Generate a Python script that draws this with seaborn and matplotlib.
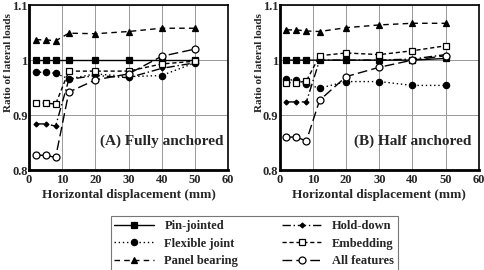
import matplotlib

matplotlib.use("Agg")

import matplotlib.pyplot as plt
import pandas as pd
import seaborn as sns

displacement = [2, 5, 8, 12, 20, 30, 40, 50]
series_names = ["Pin-jointed", "Flexible joint", "Panel bearing",
                "Hold-down", "Embedding", "All features"]

fully_pin = [1.0, 1.0, 1.0, 1.0, 1.0, 1.0, 1.0, 1.0]
fully_flexible = [0.978, 0.978, 0.976, 0.966, 0.975, 0.970, 0.972, 0.995]
fully_panel = [1.037, 1.037, 1.035, 1.049, 1.048, 1.052, 1.058, 1.058]
fully_hold = [0.884, 0.884, 0.880, 0.965, 0.972, 0.968, 0.985, 0.995]
fully_embed = [0.922, 0.922, 0.920, 0.980, 0.980, 0.980, 0.993, 0.998]
fully_all = [0.827, 0.827, 0.823, 0.942, 0.964, 0.975, 1.007, 1.020]

half_pin = [1.0, 1.0, 1.0, 1.0, 1.0, 1.0, 1.0, 1.003]
half_flexible = [0.965, 0.963, 0.956, 0.949, 0.961, 0.961, 0.954, 0.954]
half_panel = [1.055, 1.055, 1.053, 1.052, 1.059, 1.064, 1.067, 1.067]
half_hold = [0.924, 0.924, 0.924, 1.0, 1.0, 1.0, 1.002, 1.010]
half_embed = [0.959, 0.959, 0.962, 1.008, 1.013, 1.010, 1.017, 1.026]
half_all = [0.860, 0.860, 0.853, 0.927, 0.970, 0.987, 1.000, 1.008]

panels = [
    ("(A) Fully anchored", [fully_pin, fully_flexible, fully_panel,
                            fully_hold, fully_embed, fully_all]),
    ("(B) Half anchored", [half_pin, half_flexible, half_panel,
                           half_hold, half_embed, half_all]),
]

line_styles = {
    "Pin-jointed": dict(marker="s", mfc="black", ls="-", ms=4.5),
    "Flexible joint": dict(marker="o", mfc="black", ls=(0, (1, 2)), ms=4.5),
    "Panel bearing": dict(marker="^", mfc="black", ls=(0, (4, 3)), ms=4.5),
    "Hold-down": dict(marker="D", mfc="black", ls=(0, (6, 2, 1, 2)), ms=2.5),
    "Embedding": dict(marker="s", mfc="white", ls=(0, (3, 2)), ms=5),
    "All features": dict(marker="o", mfc="white", ls=(0, (7, 3)), ms=5),
}

sns.set_style("white")
plt.rcParams["font.family"] = ["Liberation Serif", "DejaVu Serif"]
plt.rcParams["font.weight"] = "bold"

fig = plt.figure(figsize=(4.85, 2.70), dpi=100)
ax_left = fig.add_axes([0.060, 0.370, 0.410, 0.611])
ax_right = fig.add_axes([0.577, 0.370, 0.410, 0.611])

for ax, (title, values) in zip([ax_left, ax_right], panels):
    for name, ys in zip(series_names, values):
        frame = pd.DataFrame({"x": displacement, "y": ys})
        st = line_styles[name]
        sns.lineplot(data=frame, x="x", y="y", ax=ax, color="black",
                     marker=st["marker"], markersize=st["ms"],
                     markerfacecolor=st["mfc"], markeredgecolor="black",
                     markeredgewidth=0.9, linestyle=st["ls"], linewidth=1.0,
                     label=name, legend=False)
    ax.set_xlim(0, 60)
    ax.set_ylim(0.8, 1.1)
    ax.set_xticks(range(0, 61, 10))
    ax.set_yticks([0.8, 0.9, 1.0, 1.1])
    ax.set_yticklabels(["0.8", "0.9", "1", "1.1"])
    ax.grid(True, color="#999999", linewidth=0.7)
    ax.tick_params(axis="x", labelsize=9, length=0, pad=3)
    ax.tick_params(axis="y", labelsize=9, length=0, pad=1)
    for lab in ax.get_xticklabels() + ax.get_yticklabels():
        lab.set_fontweight("bold")
    ax.set_xlabel("Horizontal displacement (mm)", fontsize=9.5,
                  fontweight="bold", labelpad=2)
    ax.set_ylabel("Ratio of lateral loads", fontsize=8, fontweight="bold")
    ax.yaxis.set_label_coords(-0.082, 0.65)
    for side in ["left", "bottom"]:
        ax.spines[side].set_linewidth(2.0)
    for side in ["top", "right"]:
        ax.spines[side].set_linewidth(1.2)
    for sp in ax.spines.values():
        sp.set_color("black")
    ax.text(40, 0.853, title, ha="center", va="center", fontsize=11,
            fontweight="bold")

handles, labels = ax_left.get_legend_handles_labels()
leg = fig.legend(handles, labels, ncol=2, loc="upper center",
                 bbox_to_anchor=(0.524, 0.222), frameon=True, fancybox=False,
                 edgecolor="#555555", handlelength=3.2,
                 columnspacing=3.5, labelspacing=0.45, borderpad=0.3,
                 prop={"weight": "bold", "size": 9})
leg.get_frame().set_linewidth(0.8)

fig.savefig("out.png", dpi=100)
